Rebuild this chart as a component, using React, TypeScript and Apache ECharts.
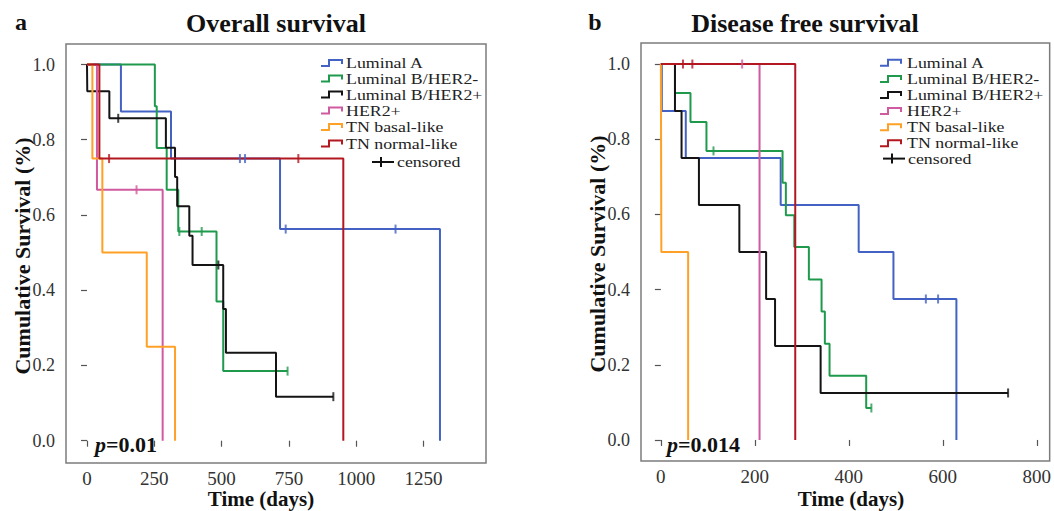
import React, { useEffect, useRef } from "react";
import * as echarts from "echarts";

// ---------- data ----------
const groups = ["Luminal A", "Luminal B/HER2-", "Luminal B/HER2+", "HER2+", "TN basal-like", "TN normal-like"];

const osXTicks = [0, 250, 500, 750, 1000, 1250];
const dfsXTicks = [0, 200, 400, 600, 800];
const yTicks = [0, 0.2, 0.4, 0.6, 0.8, 1.0];

// Overall survival: [day, survival] step points
const osLumA = [[0, 1], [126, 0.875], [312, 0.75], [717, 0.5625], [1311, 0]];
const osLumB_neg = [[0, 1], [252, 0.889], [259, 0.778], [296, 0.667], [339, 0.556], [481, 0.37], [506, 0.185], [745, 0.185]];
const osLumB_pos = [[0, 1], [1, 0.929], [83, 0.857], [293, 0.779], [327, 0.701], [335, 0.623], [380, 0.545], [392, 0.467], [506, 0.35], [516, 0.234], [702, 0.117], [915, 0.117]];
const osHer2 = [[0, 1], [37, 0.667], [281, 0]];
const osTnBasal = [[0, 1], [20, 0.75], [57, 0.5], [222, 0.25], [327, 0]];
const osTnNormal = [[0, 1], [46, 0.75], [952, 0]];

// Overall survival: censored days
const osLumACens = [568, 587, 738, 1146];
const osLumB_negCens = [343, 426, 745];
const osLumB_posCens = [116, 488, 915];
const osHer2Cens = [184];
const osTnBasalCens: number[] = [];
const osTnNormalCens = [82, 785];

// Disease free survival
const dfsLumA = [[0, 1], [2, 0.875], [53, 0.75], [255, 0.625], [421, 0.5], [495, 0.375], [629, 0]];
const dfsLumB_neg = [[0, 1], [30, 0.923], [63, 0.846], [97, 0.769], [259, 0.684], [266, 0.598], [284, 0.513], [315, 0.427], [342, 0.342], [349, 0.256], [359, 0.171], [437, 0.085], [448, 0.085]];
const dfsLumB_pos = [[0, 1], [30, 0.875], [44, 0.75], [81, 0.625], [167, 0.5], [224, 0.375], [243, 0.25], [340, 0.125], [739, 0.125]];
const dfsHer2 = [[0, 1], [210, 0]];
const dfsTnBasal = [[0, 1], [1, 0.5], [58, 0]];
const dfsTnNormal = [[0, 1], [286, 0]];

const dfsLumACens = [564, 590];
const dfsLumB_negCens = [112, 448];
const dfsLumB_posCens = [739];
const dfsHer2Cens = [173];
const dfsTnBasalCens: number[] = [];
const dfsTnNormalCens = [47, 67];

// ---------- styles ----------
const COLORS = ["#4362c4", "#1f9a4c", "#141414", "#d05a9f", "#ffa126", "#b3171f"];
const FONT = "'Liberation Serif', 'Times New Roman', Times, serif";
const FRAME = "#7c7c7c";

function survivalAt(steps: number[][], t: number) {
  let v = steps[0][1];
  for (const s of steps) if (s[0] <= t) v = s[1];
  return v;
}

function buildSeries(idx: number, curves: number[][][], cens: number[][]) {
  const out: any[] = [];
  curves.forEach((c, i) => {
    out.push({
      type: "line",
      name: groups[i],
      xAxisIndex: idx,
      yAxisIndex: idx,
      step: "end",
      data: c,
      showSymbol: false,
      symbol: "none",
      lineStyle: { color: COLORS[i], width: 2 },
      z: 2 + i,
    });
    if (cens[i].length) {
      out.push({
        type: "scatter",
        xAxisIndex: idx,
        yAxisIndex: idx,
        data: cens[i].map((t) => [t, survivalAt(c, t)]),
        symbol: "rect",
        symbolSize: [2, 9],
        itemStyle: { color: COLORS[i] },
        z: 10,
      });
    }
  });
  return out;
}

function xAxis(idx: number, min: number, max: number, ticks: number[]) {
  return {
    type: "value",
    gridIndex: idx,
    min,
    max,
    axisLine: { show: false },
    splitLine: { show: false },
    axisTick: { show: true, length: 6, customValues: ticks, lineStyle: { color: "#555", width: 1.2 } },
    axisLabel: {
      customValues: ticks,
      margin: 6,
      color: "#333",
      fontSize: 19,
      fontFamily: FONT,
      formatter: (v: number) => String(v),
    },
  };
}

function yAxis(idx: number, min: number, max: number) {
  return {
    type: "value",
    gridIndex: idx,
    min,
    max,
    axisLine: { show: false },
    splitLine: { show: false },
    axisTick: { show: true, length: 6, customValues: yTicks, lineStyle: { color: "#555", width: 1.2 } },
    axisLabel: {
      customValues: yTicks,
      margin: 11,
      color: "#333",
      fontSize: 18,
      fontFamily: FONT,
      formatter: (v: number) => v.toFixed(1),
    },
  };
}

function legendGraphics(iconX: number, textX: number, rows: number[], censY: number, censX: number) {
  const els: any[] = [];
  const textStyle = { fontFamily: FONT, fontSize: 15, fill: "#222", textAlign: "left", textVerticalAlign: "middle" };
  groups.forEach((g, i) => {
    const y = rows[i];
    els.push({
      type: "polyline",
      shape: {
        points: [
          [iconX, y + 3],
          [iconX + 8, y + 3],
          [iconX + 8, y - 3],
          [iconX + 21, y - 3],
          [iconX + 21, y + 1],
        ],
      },
      style: { stroke: COLORS[i], lineWidth: 2, fill: null },
    });
    els.push({ type: "text", x: textX, y, scaleX: 1.19, style: { ...textStyle, text: g } });
  });
  els.push({ type: "line", shape: { x1: censX, y1: censY, x2: censX + 22, y2: censY }, style: { stroke: "#111", lineWidth: 2 } });
  els.push({ type: "line", shape: { x1: censX + 9, y1: censY - 5, x2: censX + 9, y2: censY + 5 }, style: { stroke: "#111", lineWidth: 2 } });
  els.push({ type: "text", x: censX + 25, y: censY, scaleX: 1.19, style: { ...textStyle, text: "censored" } });
  return els;
}

function boldText(text: string, x: number, y: number, size: number, rotation = 0, lineHeight?: number) {
  return {
    type: "text",
    x,
    y,
    rotation,
    style: {
      text,
      fontFamily: FONT,
      fontWeight: "bold",
      fontSize: size,
      lineHeight: lineHeight || size,
      fill: "#111",
      textAlign: "center",
      textVerticalAlign: "middle",
    },
  };
}

function pText(value: string, x: number, y: number) {
  return {
    type: "text",
    x,
    y,
    style: {
      text: "{i|p}{b|" + value + "}",
      textAlign: "left",
      textVerticalAlign: "middle",
      rich: {
        i: { fontFamily: FONT, fontStyle: "italic", fontWeight: "bold", fontSize: 22, fill: "#111" },
        b: { fontFamily: FONT, fontWeight: "bold", fontSize: 22, fill: "#111" },
      },
    },
  };
}

export default function App() {
  const ref = useRef<HTMLDivElement>(null);
  useEffect(() => {
    if (!ref.current) return;
    const chart = echarts.init(ref.current, undefined, { renderer: "svg" });
    const osCurves = [osLumA, osLumB_neg, osLumB_pos, osHer2, osTnBasal, osTnNormal];
    const osCens = [osLumACens, osLumB_negCens, osLumB_posCens, osHer2Cens, osTnBasalCens, osTnNormalCens];
    const dfsCurves = [dfsLumA, dfsLumB_neg, dfsLumB_pos, dfsHer2, dfsTnBasal, dfsTnNormal];
    const dfsCens = [dfsLumACens, dfsLumB_negCens, dfsLumB_posCens, dfsHer2Cens, dfsTnBasalCens, dfsTnNormalCens];

    chart.setOption({
      animation: false,
      backgroundColor: "#fff",
      grid: [
        { left: 66, top: 44, width: 420, height: 419, show: true, borderColor: FRAME, borderWidth: 1.5, backgroundColor: "transparent" },
        { left: 641, top: 43, width: 411, height: 418, show: true, borderColor: FRAME, borderWidth: 1.5, backgroundColor: "transparent" },
      ],
      xAxis: [xAxis(0, -78, 1482, osXTicks), xAxis(1, -42.3, 827.5, dfsXTicks)],
      yAxis: [yAxis(0, -0.0593, 1.0545), yAxis(1, -0.056, 1.056)],
      series: [...buildSeries(0, osCurves, osCens), ...buildSeries(1, dfsCurves, dfsCens)],
      graphic: [
        boldText("a", 21, 22, 24),
        boldText("b", 595, 22, 24),
        boldText("Overall survival", 276, 23, 26),
        boldText("Disease free survival", 805, 23, 26),
        boldText("Cumulative Survival (%)", 22, 256, 22, Math.PI / 2),
        boldText("Cumulative Survival (%)", 597, 254, 22, Math.PI / 2),
        boldText("Time (days)", 261, 499, 21, 0, 19),
        boldText("Time (days)", 851, 499, 21, 0, 19),
        pText("=0.01", 95, 444),
        pText("=0.014", 667, 444),
        ...legendGraphics(321, 346, [63, 78.5, 94.5, 110.5, 127, 143.5], 162, 372),
        ...legendGraphics(880, 907, [62.7, 79, 95, 111, 127.3, 143.3], 158.6, 883),
      ],
    });
    return () => chart.dispose();
  }, []);
  return <div ref={ref} style={{ position: "fixed", left: 0, top: 0, width: 1054, height: 511 }} />;
}
